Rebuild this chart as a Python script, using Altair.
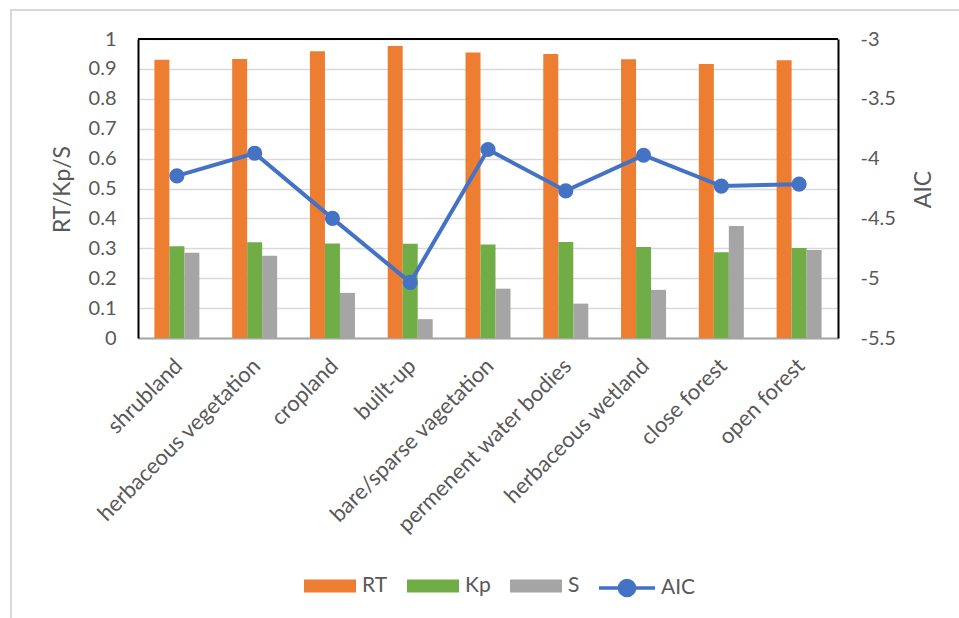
import altair as alt
import pandas as pd

# Land-cover classes along the x axis
categories = [
    "shrubland",
    "herbaceous vegetation",
    "cropland",
    "built-up",
    "bare/sparse vagetation",
    "permenent water bodies",
    "herbaceous wetland",
    "close forest",
    "open forest",
]

# Bar series (left axis)
rt = [0.931, 0.933, 0.959, 0.977, 0.955, 0.950, 0.932, 0.916, 0.929]
kp = [0.307, 0.320, 0.316, 0.315, 0.313, 0.321, 0.304, 0.287, 0.301]
s = [0.285, 0.275, 0.151, 0.063, 0.165, 0.115, 0.161, 0.375, 0.294]

# Line series (right axis)
aic = [-4.144, -3.955, -4.50, -5.035, -3.924, -4.27, -3.972, -4.23, -4.214]

series_names = ["RT", "Kp", "S"]
series_colors = ["#ED7D31", "#70AD47", "#A5A5A5"]
aic_color = "#4472C4"

left_ticks = [0, 0.1, 0.2, 0.3, 0.4, 0.5, 0.6, 0.7, 0.8, 0.9, 1]
right_ticks = [-5.5, -5, -4.5, -4, -3.5, -3]

FONT = "Lato"
TEXT = "#595959"

bar_df = pd.DataFrame(
    [
        {"category": c, "series": name, "value": v}
        for name, vals in zip(series_names, [rt, kp, s])
        for c, v in zip(categories, vals)
    ]
)
aic_df = pd.DataFrame({"category": categories, "aic": aic, "label": ["AIC"] * len(categories)})
top_df = pd.DataFrame({"value": [1]})

x_axis = alt.Axis(
    title=None,
    labelAngle=-45,
    labelAlign="right",
    labelBaseline="middle",
    labelPadding=24,
    labelOffset=2,
    labelFontSize=22,
    labelFont=FONT,
    labelColor=TEXT,
    labelLimit=400,
    labelOverlap=False,
    ticks=False,
    grid=False,
    domainColor="#A6A6A6",
    domainWidth=2,
)
x_enc = alt.X(
    "category:N",
    sort=categories,
    scale=alt.Scale(paddingInner=0.4216, paddingOuter=0.2108),
    axis=x_axis,
)

left_axis = alt.Axis(
    title="RT/Kp/S",
    values=left_ticks,
    tickCount=11,
    labelExpr="'' + datum.value",
    labelOverlap=False,
    labelFontSize=20,
    labelFont=FONT,
    labelColor=TEXT,
    labelPadding=22,
    ticks=False,
    domainColor="black",
    domainWidth=2,
    gridColor="#D9D9D9",
    gridWidth=1.5,
    titleFontSize=23,
    titleFont=FONT,
    titleColor=TEXT,
    titleFontWeight="normal",
    titleAngle=270,
    titleX=-76,
    titleY=150,
    titleAlign="center",
    titleBaseline="middle",
)

right_axis = alt.Axis(
    title="AIC",
    orient="right",
    values=right_ticks,
    labelExpr="'' + datum.value",
    labelOverlap=False,
    labelFontSize=20,
    labelFont=FONT,
    labelColor=TEXT,
    labelPadding=22,
    ticks=False,
    grid=False,
    domainColor="black",
    domainWidth=2,
    titleFontSize=23,
    titleFont=FONT,
    titleColor=TEXT,
    titleFontWeight="normal",
    titleAngle=270,
    titleX=85,
    titleY=150,
    titleAlign="center",
    titleBaseline="middle",
)

RECT_PATH = "M-1,-0.25H1V0.25H-1Z"
AIC_PATH = "M-1,0H1M-0.27,0A0.27,0.27 0 1,0 0.27,0A0.27,0.27 0 1,0 -0.27,0Z"

bar_legend = alt.Legend(
    title=None,
    orient="none",
    legendX=166,
    legendY=521,
    direction="horizontal",
    symbolType=RECT_PATH,
    symbolSize=2704,
    symbolStrokeWidth=0,
    labelFontSize=21,
    labelFont=FONT,
    labelColor=TEXT,
    labelOffset=6,
    columnPadding=19,
    gridAlign="all",
    padding=0,
)

aic_legend = alt.Legend(
    title=None,
    orient="none",
    legendX=459,
    legendY=519,
    direction="horizontal",
    symbolType=AIC_PATH,
    symbolSize=3136,
    symbolStrokeWidth=3.5,
    symbolFillColor=aic_color,
    labelFontSize=21,
    labelFont=FONT,
    labelColor=TEXT,
    labelOffset=4,
    padding=0,
)

# Light outer frame around the whole figure
frame = alt.Chart(pd.DataFrame({"k": [0]})).mark_rect(
    filled=False, stroke="#D9D9D9", strokeWidth=2
).encode(
    x=alt.value(-127), x2=alt.value(1000), y=alt.value(-29), y2=alt.value(700)
)

left_y = alt.Y("value:Q", scale=alt.Scale(domain=[0, 1], nice=False), axis=left_axis)

bars = alt.Chart(bar_df).mark_bar().encode(
    x=x_enc,
    xOffset=alt.XOffset("series:N", sort=series_names, scale=alt.Scale(paddingInner=0)),
    y=left_y,
    color=alt.Color(
        "series:N",
        scale=alt.Scale(domain=series_names, range=series_colors),
        legend=bar_legend,
    ),
)

# Top edge of the plot frame
top_rule = alt.Chart(top_df).mark_rule(color="black", strokeWidth=2).encode(y=left_y)

left = alt.layer(frame, bars, top_rule)

aic_y = alt.Y("aic:Q", scale=alt.Scale(domain=[-5.5, -3], nice=False), axis=right_axis)

line = alt.Chart(aic_df).mark_line(strokeWidth=4).encode(
    x=alt.X("category:N", sort=categories),
    y=aic_y,
    stroke=alt.Stroke(
        "label:N",
        scale=alt.Scale(domain=["AIC"], range=[aic_color]),
        legend=aic_legend,
    ),
)
points = alt.Chart(aic_df).mark_circle(size=230, opacity=1, color=aic_color).encode(
    x=alt.X("category:N", sort=categories),
    y=aic_y,
)
right = alt.layer(line, points)

chart = (
    alt.layer(left, right)
    .resolve_scale(y="independent")
    .properties(
        width=700,
        height=299,
        autosize=alt.AutoSizeParams(type="none"),
        padding={"left": 138, "top": 39, "right": 121, "bottom": 280},
        background="white",
    )
    .configure_view(strokeWidth=0)
)

chart.save("out.html", embed_options={"renderer": "svg", "actions": False})
